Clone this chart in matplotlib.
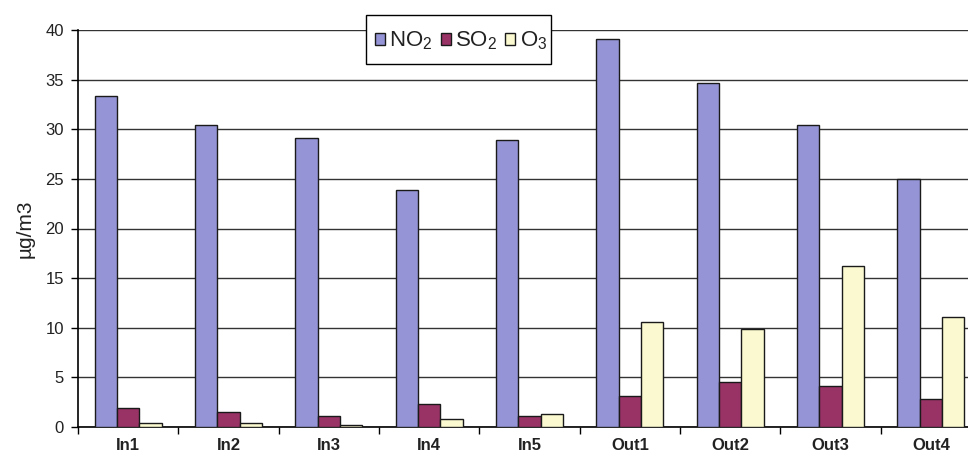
import matplotlib
matplotlib.use("Agg")
import matplotlib.pyplot as plt
from matplotlib.patches import Rectangle
import numpy as np

plt.rcParams['font.family'] = ['Liberation Sans', 'DejaVu Sans']
plt.rcParams['mathtext.fontset'] = 'custom'
plt.rcParams['mathtext.rm'] = 'Liberation Sans'
plt.rcParams['mathtext.default'] = 'regular'

sites = ["In1", "In2", "In3", "In4", "In5", "Out1", "Out2", "Out3", "Out4"]
no2 = [33.3, 30.4, 29.1, 23.9, 28.9, 39.1, 34.7, 30.4, 25.0]
so2 = [1.9, 1.5, 1.1, 2.3, 1.1, 3.15, 4.5, 4.1, 2.8]
o3 = [0.4, 0.4, 0.2, 0.8, 1.3, 10.6, 9.9, 16.2, 11.1]

series_labels = [r"NO$_2$", r"SO$_2$", r"O$_3$"]
series_colors = ["#9494d6", "#993366", "#fbf9cf"]
yticks = [0, 5, 10, 15, 20, 25, 30, 35, 40]

W, H = 968, 457
fig = plt.figure(figsize=(W / 100, H / 100), dpi=100)
left_px, right_px, top_px, bottom_px = 78, 981, 30, 427
ax = fig.add_axes([left_px / W, 1 - bottom_px / H,
                   (right_px - left_px) / W, (bottom_px - top_px) / H])

x = np.arange(len(sites))
bw = 1 / 4.5  # Excel-style gap width of 150%
for i, (vals, lab, col) in enumerate(zip([no2, so2, o3], series_labels, series_colors)):
    ax.bar(x + (i - 1) * bw, vals, width=bw, color=col, edgecolor="#1a1a1a",
           linewidth=1.0, label=lab, zorder=3)

ax.set_xlim(-0.5, len(sites) - 0.5)
ax.set_ylim(0, 40)
ax.set_yticks(yticks)
ax.set_yticklabels([str(t) for t in yticks], fontsize=12, color="#222222")
ax.yaxis.grid(True, color="#333333", linewidth=1.0, zorder=0)
ax.set_axisbelow(True)

ax.set_xticks(x)
ax.set_xticklabels(sites, fontsize=12, fontweight="bold", color="#222222")
ax.tick_params(axis="x", which="major", length=0, pad=8)
ax.set_xticks(np.arange(-0.5, len(sites) + 0.5, 1), minor=True)
ax.tick_params(axis="x", which="minor", length=5, width=1, direction="out")
ax.tick_params(axis="y", length=5, width=1, direction="out", pad=5)

for s in ["top", "right"]:
    ax.spines[s].set_visible(False)
ax.spines["left"].set_linewidth(1.2)
ax.spines["bottom"].set_linewidth(1.2)

ax.set_ylabel("µg/m3", fontsize=15, labelpad=8, color="#222222")

# legend box drawn separately so its padding can be set freely
box_l, box_r, box_t, box_b = 366, 551, 15, 64
fig.patches.append(Rectangle((box_l / W, 1 - box_b / H), (box_r - box_l) / W,
                             (box_b - box_t) / H, transform=fig.transFigure,
                             facecolor="white", edgecolor="black", linewidth=1.0,
                             zorder=4))
leg = fig.legend(loc="center left",
                 bbox_to_anchor=(375 / W, 1 - (box_t + box_b + 3) / 2 / H),
                 ncol=3, fontsize=16, frameon=False,
                 handlelength=0.45, handleheight=0.45, handletextpad=0.2,
                 columnspacing=0.35, borderpad=0, borderaxespad=0)
leg.set_zorder(5)
for t in leg.get_texts():
    t.set_color("#222222")

fig.savefig("out.png", dpi=100)
